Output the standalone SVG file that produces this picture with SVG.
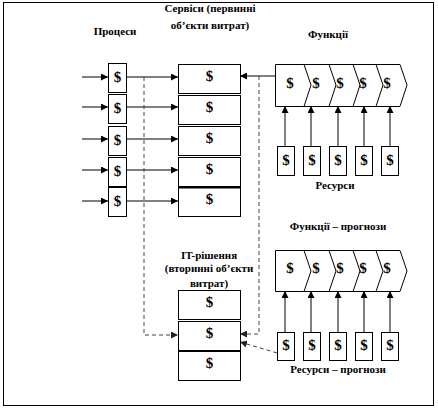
<svg xmlns="http://www.w3.org/2000/svg" width="438" height="409" viewBox="0 0 438 409">
<style>
.t{font-family:'Liberation Serif','DejaVu Serif',serif;font-size:11px;font-weight:700;fill:#000;text-anchor:middle}
.d{font-family:'Liberation Serif','DejaVu Serif',serif;font-size:15px;font-weight:700;fill:#000;text-anchor:middle}
.b{fill:#fff;stroke:#000;stroke-width:1}
.c{fill:none;stroke:#000;stroke-width:1}
.ds{fill:none;stroke:#444;stroke-width:1;stroke-dasharray:4,3}
</style>
<defs>
<marker id="a" viewBox="0 0 10 10" refX="10" refY="5" markerWidth="7" markerHeight="7" markerUnits="userSpaceOnUse" orient="auto"><path d="M0,0 L10,5 L0,10 z" fill="#000"/></marker>
<marker id="ag" viewBox="0 0 10 10" refX="10" refY="5" markerWidth="7" markerHeight="7" markerUnits="userSpaceOnUse" orient="auto"><path d="M0,0 L10,5 L0,10 z" fill="#222"/></marker>
</defs>
<rect x="3.5" y="2.5" width="430" height="403" fill="#fff" stroke="#000" stroke-width="1"/>

<g id="labels">
<text class="t" x="210" y="12">Сервіси (первинні</text>
<text class="t" x="210" y="29">об’єкти витрат)</text>
<text class="t" x="115" y="35">Процеси</text>
<text class="t" x="328" y="38">Функції</text>
<text class="t" x="335" y="189">Ресурси</text>
<text class="t" x="338" y="230">Функції – прогнози</text>
<text class="t" x="338" y="373">Ресурси – прогнози</text>
<text class="t" x="209" y="259">IT-рішення</text>
<text class="t" x="209" y="272">(вторинні об’єкти</text>
<text class="t" x="209" y="287">витрат)</text>
</g>

<g id="connectors">
<line class="c" x1="82" y1="77" x2="108" y2="77" marker-end="url(#a)"/>
<line class="c" x1="82" y1="107" x2="108" y2="107" marker-end="url(#a)"/>
<line class="c" x1="82" y1="139" x2="108" y2="139" marker-end="url(#a)"/>
<line class="c" x1="82" y1="170" x2="108" y2="170" marker-end="url(#a)"/>
<line class="c" x1="82" y1="201" x2="108" y2="201" marker-end="url(#a)"/>
<line class="c" x1="126" y1="77" x2="178" y2="77" marker-end="url(#a)"/>
<line class="c" x1="126" y1="107" x2="178" y2="107" marker-end="url(#a)"/>
<line class="c" x1="126" y1="139" x2="178" y2="139" marker-end="url(#a)"/>
<line class="c" x1="126" y1="170" x2="178" y2="170" marker-end="url(#a)"/>
<line class="c" x1="126" y1="201" x2="178" y2="201" marker-end="url(#a)"/>
<line class="c" x1="275" y1="76" x2="240" y2="76" marker-end="url(#a)"/>
<polyline class="ds" points="144,77 144,335 178,335" marker-end="url(#ag)"/>
<polyline class="ds" points="259,76 259,334 240,334" marker-end="url(#ag)"/>
<line class="ds" x1="277" y1="353" x2="240" y2="342" marker-end="url(#ag)"/>
<line class="c" x1="285" y1="146" x2="285" y2="106" marker-end="url(#a)"/>
<line class="c" x1="311" y1="146" x2="311" y2="106" marker-end="url(#a)"/>
<line class="c" x1="338" y1="146" x2="338" y2="106" marker-end="url(#a)"/>
<line class="c" x1="364" y1="146" x2="364" y2="106" marker-end="url(#a)"/>
<line class="c" x1="390" y1="146" x2="390" y2="106" marker-end="url(#a)"/>
<line class="c" x1="285" y1="332" x2="285" y2="291" marker-end="url(#a)"/>
<line class="c" x1="311" y1="332" x2="311" y2="291" marker-end="url(#a)"/>
<line class="c" x1="338" y1="332" x2="338" y2="291" marker-end="url(#a)"/>
<line class="c" x1="364" y1="332" x2="364" y2="291" marker-end="url(#a)"/>
<line class="c" x1="390" y1="332" x2="390" y2="291" marker-end="url(#a)"/>
</g>

<g id="processes">
<rect class="b" x="108.5" y="63.5" width="18" height="29"/><text class="d" x="117.5" y="82">$</text>
<rect class="b" x="108.5" y="94.5" width="18" height="29"/><text class="d" x="117.5" y="113">$</text>
<rect class="b" x="108.5" y="126.5" width="18" height="29"/><text class="d" x="117.5" y="145">$</text>
<rect class="b" x="108.5" y="157.5" width="18" height="29"/><text class="d" x="117.5" y="176">$</text>
<rect class="b" x="108.5" y="187.5" width="18" height="29"/><text class="d" x="117.5" y="206">$</text>
</g>

<g id="services">
<rect class="b" x="178.5" y="64.5" width="62" height="29"/><text class="d" x="209.5" y="81">$</text>
<rect class="b" x="178.5" y="95.5" width="62" height="29"/><text class="d" x="209.5" y="112">$</text>
<rect class="b" x="178.5" y="126.5" width="62" height="29"/><text class="d" x="209.5" y="143">$</text>
<rect class="b" x="178.5" y="157.5" width="62" height="29"/><text class="d" x="209.5" y="174">$</text>
<rect class="b" x="178.5" y="187.5" width="62" height="29"/><line x1="178" y1="187.5" x2="241" y2="187.5" stroke="#000" stroke-width="2"/><text class="d" x="209.5" y="204">$</text>
</g>

<g id="it-solutions">
<rect class="b" x="178.5" y="290.5" width="62" height="29"/><text class="d" x="209.5" y="307">$</text>
<rect class="b" x="178.5" y="321.5" width="62" height="29"/><text class="d" x="209.5" y="338">$</text>
<rect class="b" x="178.5" y="351.5" width="62" height="29"/><text class="d" x="209.5" y="368">$</text>
</g>

<g id="functions">
<polygon class="b" points="275.5,64.5 400,64.5 407,85 400,106.5 275.5,106.5"/>
<polyline class="c" points="304,64.5 311,85 304,106.5"/>
<polyline class="c" points="329,64.5 336,85 329,106.5"/>
<polyline class="c" points="353,64.5 360,85 353,106.5"/>
<polyline class="c" points="376,64.5 383,85 376,106.5"/>
<text class="d" x="290" y="88">$</text>
<text class="d" x="316" y="88">$</text>
<text class="d" x="340" y="88">$</text>
<text class="d" x="363" y="88">$</text>
<text class="d" x="387" y="88">$</text>
</g>

<g id="resources">
<rect class="b" x="277.5" y="146.5" width="17" height="29"/><text class="d" x="286" y="165">$</text>
<rect class="b" x="303.5" y="146.5" width="17" height="29"/><text class="d" x="312" y="165">$</text>
<rect class="b" x="329.5" y="146.5" width="17" height="29"/><text class="d" x="338" y="165">$</text>
<rect class="b" x="355.5" y="146.5" width="17" height="29"/><text class="d" x="364" y="165">$</text>
<rect class="b" x="381.5" y="146.5" width="17" height="29"/><text class="d" x="390" y="165">$</text>
</g>

<g id="functions-forecast">
<polygon class="b" points="275.5,250.5 400,250.5 407,271 400,291.5 275.5,291.5"/>
<polyline class="c" points="304,250.5 311,271 304,291.5"/>
<polyline class="c" points="329,250.5 336,271 329,291.5"/>
<polyline class="c" points="353,250.5 360,271 353,291.5"/>
<polyline class="c" points="376,250.5 383,271 376,291.5"/>
<text class="d" x="290" y="273">$</text>
<text class="d" x="316" y="273">$</text>
<text class="d" x="340" y="273">$</text>
<text class="d" x="363" y="273">$</text>
<text class="d" x="387" y="273">$</text>
</g>

<g id="resources-forecast">
<rect class="b" x="277.5" y="332.5" width="17" height="28"/><text class="d" x="286" y="350">$</text>
<rect class="b" x="303.5" y="332.5" width="17" height="28"/><text class="d" x="312" y="350">$</text>
<rect class="b" x="329.5" y="332.5" width="17" height="28"/><text class="d" x="338" y="350">$</text>
<rect class="b" x="355.5" y="332.5" width="17" height="28"/><text class="d" x="364" y="350">$</text>
<rect class="b" x="381.5" y="332.5" width="17" height="28"/><text class="d" x="390" y="350">$</text>
</g>
</svg>
